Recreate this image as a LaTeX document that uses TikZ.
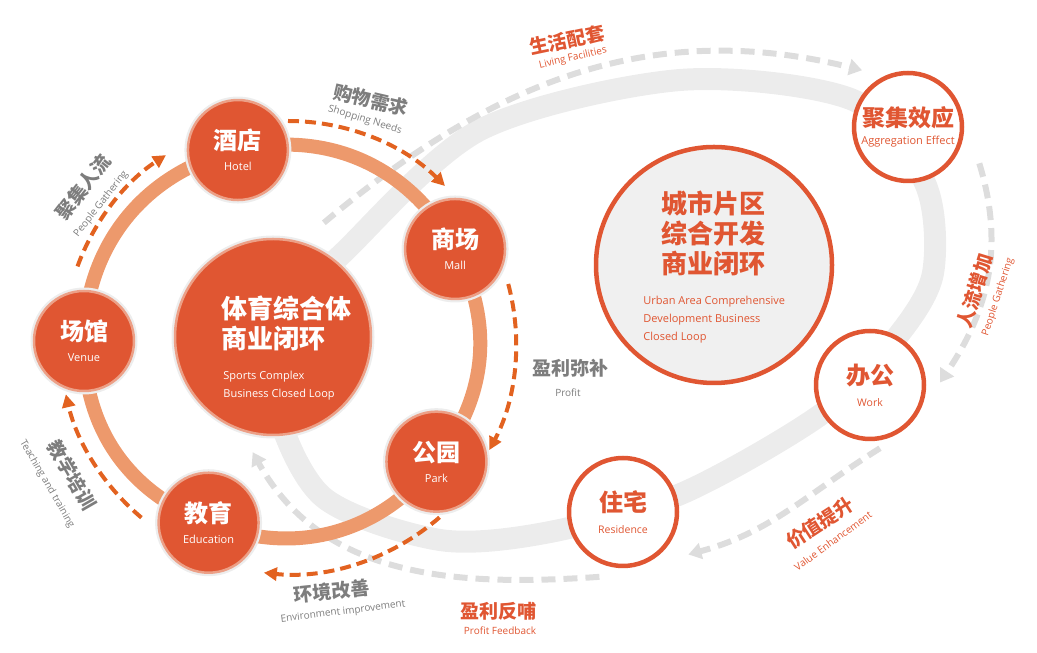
\documentclass[tikz,border=0pt]{standalone}
\usepackage{fontspec}
\setmainfont{Open Sans}
\newfontfamily\cjk{Noto Sans CJK SC}
\usetikzlibrary{arrows.meta,calc,backgrounds}

\definecolor{hubred}{RGB}{224,86,50}
\definecolor{halo}{RGB}{236,160,135}
\definecolor{ringorange}{RGB}{237,153,108}
\definecolor{flowred}{RGB}{226,98,32}
\definecolor{labelgray}{RGB}{125,125,125}
\definecolor{bandgray}{RGB}{236,236,236}
\definecolor{dashgray}{RGB}{221,221,221}
\definecolor{cityfill}{RGB}{240,240,240}

\newcommand{\nodelabel}[3][24]{{\cjk\bfseries\fontsize{#1}{#1}\selectfont #2}\\#3}

\begin{document}
\begin{tikzpicture}[x=1pt, y=1pt,
                    thick,
                    main node/.style={circle, fill=hubred, draw=halo, line width=2.5pt,
                      preaction={draw=black!7, line width=7pt},
                      minimum size=100pt, inner sep=0pt, text=white, align=center,
                      font=\fontsize{11}{21}\selectfont},
                    hub node/.style={main node, minimum size=196pt},
                    city node/.style={circle, fill=white, draw=hubred, line width=4.5pt,
                      minimum size=108pt, inner sep=0pt, text=hubred, align=center,
                      font=\fontsize{10.5}{22}\selectfont},
                    ring/.style={ringorange, line width=14pt},
                    band/.style={bandgray, line width=22pt},
                    flow/.style={flowred, line width=4pt, dash pattern=on 11pt off 6pt,
                      -{Triangle[length=13pt, width=13pt]}},
                    feed/.style={dashgray, line width=6pt, dash pattern=on 14pt off 8pt,
                      -{Triangle[length=13pt, width=16pt]}},
                    zh/.style={font=\cjk\bfseries\fontsize{19}{19}\selectfont, text=labelgray, inner sep=0pt},
                    en/.style={font=\fontsize{10}{12}\selectfont, text=labelgray, inner sep=0pt}]

  \useasboundingbox (0,0) rectangle (1037,653);
  \coordinate (ringc) at (282,312);
  \coordinate (loop) at (288,310);

  % sports complex loop
  \node[hub node] (hub) at (273,316) {};
  \node[main node] (hotel) at ($(ringc)+(103:196)$) {\nodelabel{酒店}{Hotel}};
  \node[main node] (mall) at ($(ringc)+(28:196)$) {\nodelabel{商场}{Mall}};
  \node[main node] (park) at ($(ringc)+(-38:196)$) {\nodelabel{公园}{Park}};
  \node[main node] (edu) at ($(ringc)+(-112:196)$) {\nodelabel{教育}{Education}};
  \node[main node] (venue) at ($(ringc)+(180:198)$) {\nodelabel{场馆}{Venue}};

  \node[font=\cjk\bfseries\fontsize{26}{30}\selectfont, text=white, align=left,
        anchor=west, inner sep=0pt] (hubzh) at (221,330) {体育综合体\\商业闭环};
  \node[en, text=white, font=\fontsize{11}{18}\selectfont, align=left,
        anchor=west] (huben) at (223,267) {Sports Complex\\Business Closed Loop};

  % city loop
  \node[city node, minimum size=236pt, fill=cityfill] (city) at (714,388) {};
  \node[city node, font=\fontsize{11}{18}\selectfont] (agg) at (908,526)
    {\nodelabel[23]{聚集效应}{Aggregation Effect}};
  \node[city node] (work) at (870,268) {\nodelabel{办公}{Work}};
  \node[city node] (res) at (623,141) {\nodelabel{住宅}{Residence}};

  \node[font=\cjk\bfseries\fontsize{26}{30}\selectfont, text=hubred, align=center,
        inner sep=0pt] (cityzh) at (713,420) {城市片区\\综合开发\\商业闭环};
  \node[en, text=hubred, font=\fontsize{11}{18}\selectfont, align=left,
        anchor=west] (cityen) at (643,333) {Urban Area Comprehensive\\Development Business\\Closed Loop};

  \begin{scope}[on background layer]
    \draw[band] plot[smooth cycle] coordinates {(343,400) (480,523) (680,573) (853,553)
      (925,470) (933,380) (897,316) (823,240) (683,160) (550,121) (440,113) (323,156)
      (275,253) (290,343)};
    \draw[feed] ($(hub)+(66:125)$) to[out=40, in=166] ($(agg)+(129:73)$);
    \draw[feed] ($(agg)+(-27:80)$) to[out=-73, in=56] ($(work)+(2:70)$);
    \draw[feed] ($(work)+(-81:64)$) to[out=212, in=15] ($(res)+(-33:78)$);
    \draw[feed] ($(res)+(-110:69)$) to[out=184, in=-61] ($(hub)+(-100:117)$);
    \draw[ring] (venue.center) to[bend left=38] (hotel.center)
                to[bend left=37] (mall.center) to[bend left=33] (park.center)
                to[bend left=37] (edu.center) to[bend left=35] (venue.center);
  \end{scope}

  \draw[flow] ($(loop)+(160:224)$) arc[start angle=160, end angle=123, radius=224];
  \draw[flow] ($(loop)+(90:222)$) arc[start angle=90, end angle=45, radius=222];
  \draw[flow] ($(loop)+(15:228)$) arc[start angle=15, end angle=-28, radius=228];
  \draw[flow] ($(loop)+(-49:231)$) arc[start angle=-49, end angle=-96, radius=231];
  \draw[flow] ($(loop)+(-130:228)$) arc[start angle=-130, end angle=-167, radius=228];

  % arrow labels
  \node[zh, rotate=52] (l1zh) at (83,466) {聚集人流};
  \node[en, rotate=52] (l1en) at (101,449) {People Gathering};
  \node[zh, rotate=-13] (l2zh) at (371,553) {购物需求};
  \node[en, rotate=-17] (l2en) at (365,533) {Shopping Needs};
  \node[zh] (l3zh) at (570,285) {盈利弥补};
  \node[en] (l3en) at (568,260) {Profit};
  \node[zh, rotate=-60] (l4zh) at (72,178) {教学培训};
  \node[en, rotate=-60] (l4en) at (47,169) {Teaching and training};
  \node[zh, rotate=6] (l5zh) at (332,62) {环境改善};
  \node[en, rotate=7] (l5en) at (343,41) {Environment improvement};

  \node[zh, text=hubred, rotate=12] (r1zh) at (567,613) {生活配套};
  \node[en, text=hubred, rotate=13] (r1en) at (573,595) {Living Facilities};
  \node[zh, text=hubred, rotate=73] (r2zh) at (975,362) {人流增加};
  \node[en, text=hubred, rotate=72] (r2en) at (998,356) {People Gathering};
  \node[zh, text=hubred, rotate=33] (r3zh) at (820,130) {价值提升};
  \node[en, text=hubred, rotate=36] (r3en) at (833,112) {Value Enhancement};
  \node[zh, text=hubred] (r4zh) at (498,42) {盈利反哺};
  \node[en, text=hubred] (r4en) at (500,22) {Profit Feedback};
\end{tikzpicture}
\end{document}
